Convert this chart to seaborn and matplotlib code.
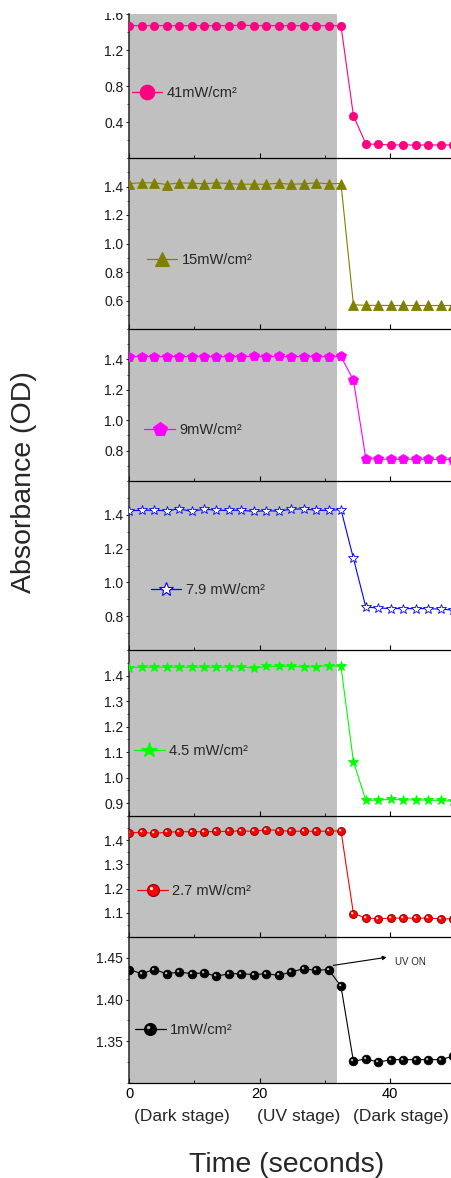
import numpy as np
import matplotlib
matplotlib.use("Agg")
import matplotlib.pyplot as plt
import seaborn as sns
from matplotlib.lines import Line2D
from matplotlib.path import Path
from matplotlib.patches import Rectangle
from matplotlib.ticker import MultipleLocator, FixedLocator, FormatStrFormatter

sns.set_style("ticks")
plt.rcParams["font.family"] = ["Liberation Sans", "DejaVu Sans"]

# ---- data -------------------------------------------------------------
time_s = [0.0, 1.91, 3.82, 5.73, 7.64, 9.55, 11.46, 13.37, 15.28, 17.19,
          19.10, 21.01, 22.92, 24.83, 26.74, 28.65, 30.56, 32.47, 34.38,
          36.29, 38.20, 40.11, 42.02, 43.93, 45.84, 47.75, 49.66]

od_41 = [1.470, 1.470, 1.470, 1.470, 1.470, 1.470, 1.470, 1.470, 1.470,
         1.477, 1.470, 1.470, 1.470, 1.470, 1.470, 1.470, 1.470, 1.470,
         0.470, 0.156, 0.152, 0.145, 0.145, 0.145, 0.145, 0.145, 0.145]
od_15 = [1.421, 1.426, 1.426, 1.414, 1.426, 1.423, 1.419, 1.426, 1.421,
         1.416, 1.416, 1.416, 1.423, 1.416, 1.419, 1.426, 1.419, 1.421,
         0.570, 0.566, 0.566, 0.565, 0.565, 0.565, 0.565, 0.565, 0.565]
od_9 = [1.418, 1.419, 1.418, 1.418, 1.419, 1.418, 1.418, 1.418, 1.418,
        1.419, 1.420, 1.418, 1.420, 1.418, 1.419, 1.418, 1.418, 1.420,
        1.263, 0.745, 0.745, 0.742, 0.742, 0.742, 0.742, 0.742, 0.740]
od_7_9 = [1.424, 1.427, 1.427, 1.424, 1.435, 1.420, 1.433, 1.427, 1.426,
          1.427, 1.420, 1.424, 1.422, 1.433, 1.435, 1.427, 1.426, 1.431,
          1.142, 0.853, 0.849, 0.845, 0.845, 0.845, 0.845, 0.841, 0.837]
od_4_5 = [1.431, 1.433, 1.433, 1.433, 1.433, 1.433, 1.433, 1.433, 1.433,
          1.435, 1.428, 1.436, 1.436, 1.437, 1.433, 1.435, 1.439, 1.436,
          1.063, 0.911, 0.913, 0.915, 0.913, 0.913, 0.912, 0.911, 0.908]
od_2_7 = [1.430, 1.433, 1.428, 1.433, 1.435, 1.435, 1.435, 1.436, 1.436,
          1.439, 1.436, 1.444, 1.440, 1.437, 1.437, 1.437, 1.437, 1.439,
          1.097, 1.079, 1.075, 1.078, 1.078, 1.078, 1.078, 1.075, 1.075]
od_1 = [1.436, 1.431, 1.436, 1.431, 1.433, 1.431, 1.432, 1.428, 1.431,
        1.431, 1.430, 1.431, 1.429, 1.433, 1.437, 1.435, 1.436, 1.416,
        1.326, 1.329, 1.325, 1.328, 1.328, 1.328, 1.328, 1.328, 1.332]

series = [od_41, od_15, od_9, od_7_9, od_4_5, od_2_7, od_1]
intensity_labels = ["41mW/cm²", "15mW/cm²", "9mW/cm²", "7.9 mW/cm²",
                    "4.5 mW/cm²", "2.7 mW/cm²", "1mW/cm²"]
stage_labels = ["(Dark stage)", "(UV stage)", "(Dark stage)"]
uv_end = 31.9

# ---- styling per panel ------------------------------------------------
styles = [
    dict(color="#FF0080", marker="o", ms=5.9, lms=10.5, fc=None, sphere=False),
    dict(color="#808000", marker="^", ms=7.0, lms=9.8, fc=None, sphere=False),
    dict(color="#FF00FF", marker="p", ms=7.2, lms=10.8, fc=None, sphere=False),
    dict(color="#0000FF", marker="*", ms=7.8, lms=10.8, fc="white", sphere=False),
    dict(color="#00FF00", marker="*", ms=7.8, lms=11.5, fc=None, sphere=False),
    dict(color="#FF0000", marker="o", ms=5.8, lms=8.6, fc=None, sphere=True),
    dict(color="#000000", marker="o", ms=6.2, lms=8.6, fc=None, sphere=True),
]
ylims = [(0.0, 1.6), (0.4, 1.6), (0.6, 1.6), (0.6, 1.6),
         (0.85, 1.5), (1.0, 1.5), (1.30, 1.475)]
yticks = [[0.4, 0.8, 1.2, 1.6], [0.6, 0.8, 1.0, 1.2, 1.4],
          [0.8, 1.0, 1.2, 1.4], [0.8, 1.0, 1.2, 1.4],
          [0.9, 1.0, 1.1, 1.2, 1.3, 1.4], [1.1, 1.2, 1.3, 1.4],
          [1.35, 1.40, 1.45]]
yminor = [0.2, 0.1, 0.1, 0.1, 0.05, 0.05, 0.025]
yfmt = ["%.1f"] * 6 + ["%.2f"]
legend_anchor_px = [(131.7, 93.3), (146.7, 260), (144.3, 430), (150.7, 590),
                    (134, 751), (137.3, 890.7), (135, 1030)]


def glint_path():
    """Small offset highlight drawn on top of a round marker (sphere look)."""
    circ = Path.circle(center=(-0.16, 0.16), radius=0.14)
    verts = np.vstack([[[-0.5, -0.5]], [[0.5, 0.5]], circ.vertices])
    codes = np.concatenate([[Path.MOVETO, Path.MOVETO], circ.codes])
    return Path(verts, codes)


GLINT = glint_path()

W, H = 452, 1178
fig = plt.figure(figsize=(W / 100, H / 100), dpi=100)
edges = [14, 158, 329, 481, 650, 816, 937, 1083]
left_px = 129.3

axes = []
for k, (vals, st) in enumerate(zip(series, styles)):
    top, bot = edges[k], edges[k + 1]
    ax = fig.add_axes([left_px / W, 1 - bot / H, 1 - left_px / W, (bot - top) / H])
    # upper panels are drawn last so their bottom axis line sits on top
    ax.set_zorder(20 - k)
    ax.set_facecolor("none")
    axes.append(ax)
    ax.axvspan(0, uv_end, color="#C0C0C0", lw=0, zorder=0)

    c = st["color"]
    fc = st["fc"] if st["fc"] else c
    ec = c
    if st["sphere"]:
        ec = "#8a0000" if c == "#FF0000" else "#000000"
    sns.lineplot(x=time_s, y=vals, ax=ax, color=c, marker=st["marker"],
                 markersize=st["ms"], markerfacecolor=fc, markeredgecolor=ec,
                 markeredgewidth=0.6, linewidth=0.8, legend=False, zorder=3)
    handle = Line2D([], [], color=c, marker=st["marker"], markersize=st["lms"],
                    markerfacecolor=fc, markeredgecolor=ec, markeredgewidth=0.8,
                    linewidth=0.9)
    if st["sphere"]:
        gl_col = "#ffffff" if c == "#FF0000" else "#c8c8c8"
        ax.plot(time_s, vals, linestyle="none", marker=GLINT, markersize=st["ms"],
                markerfacecolor=gl_col, markeredgewidth=0, alpha=0.9, zorder=4)
        glint = Line2D([], [], linestyle="none", marker=GLINT, markersize=st["lms"],
                       markerfacecolor=gl_col, markeredgewidth=0, alpha=0.9)
        handle = (handle, glint)

    ax.set_xlim(0, 49.5)
    ax.set_ylim(*ylims[k])
    ax.set_xlabel("")
    ax.set_ylabel("")
    for s in ("top", "right"):
        ax.spines[s].set_visible(False)
    ax.spines["left"].set_linewidth(1.1)
    ax.spines["left"].set_color("#262626")
    ax.spines["bottom"].set_linewidth(0.9)
    ax.spines["bottom"].set_color("#000000")
    ax.spines["bottom"].set_zorder(5)

    ax.yaxis.set_major_locator(FixedLocator(yticks[k]))
    ax.yaxis.set_minor_locator(MultipleLocator(yminor[k]))
    ax.yaxis.set_major_formatter(FormatStrFormatter(yfmt[k]))
    ax.tick_params(axis="y", which="major", direction="out", length=2.5,
                   width=0.8, labelsize=10, pad=1.8, color="#262626",
                   labelcolor="#1a1a1a")
    ax.tick_params(axis="y", which="minor", direction="out", length=1.5,
                   width=0.6, color="#262626")

    ax.xaxis.set_major_locator(MultipleLocator(20))
    ax.xaxis.set_minor_locator(MultipleLocator(10))
    ax.tick_params(axis="x", which="major", direction="in", length=3.5,
                   width=0.8, labelsize=10.5, pad=3, labelcolor="#000000",
                   color="#000000")
    ax.tick_params(axis="x", which="minor", direction="in", length=2, width=0.6,
                   color="#000000")
    if k < 6:
        ax.tick_params(axis="x", labelbottom=False)

    ax_px, ay_px = legend_anchor_px[k]
    ax.legend([handle], [intensity_labels[k]], loc="center left",
              bbox_to_anchor=(ax_px / W, 1 - ay_px / H),
              bbox_transform=fig.transFigure, frameon=False, fontsize=10.5,
              borderpad=0, borderaxespad=0, handlelength=2.1,
              handletextpad=0.3, numpoints=1)

# UV-on marker on the lowest panel
ax7 = axes[-1]
ax7.annotate("", xy=(39.5, 1.4507), xytext=(31.3, 1.441),
             arrowprops=dict(arrowstyle="-|>", color="black", lw=0.8,
                             mutation_scale=6, shrinkA=0, shrinkB=0),
             annotation_clip=False)
ax7.text(40.75, 1.4450, "UV ON", fontsize=7, va="center", ha="left")

# stage captions under the time axis
for txt, xp in zip(stage_labels, (182, 299, 401)):
    fig.text(xp / W, 1 - 1117 / H, txt, ha="center", va="center", fontsize=12.5)

fig.text(286.5 / W, 1 - 1165 / H, "Time (seconds)", ha="center", va="center",
         fontsize=20.5)
fig.text(24 / W, 1 - 482 / H, "Absorbance (OD)", ha="center", va="center",
         rotation=90, fontsize=20.5)

# plain top margin
fig.add_artist(Rectangle((0, 1 - 13 / H), 1, 13 / H, transform=fig.transFigure,
                         facecolor="white", edgecolor="none", zorder=30))

fig.savefig("out.png", dpi=100, facecolor="white")
